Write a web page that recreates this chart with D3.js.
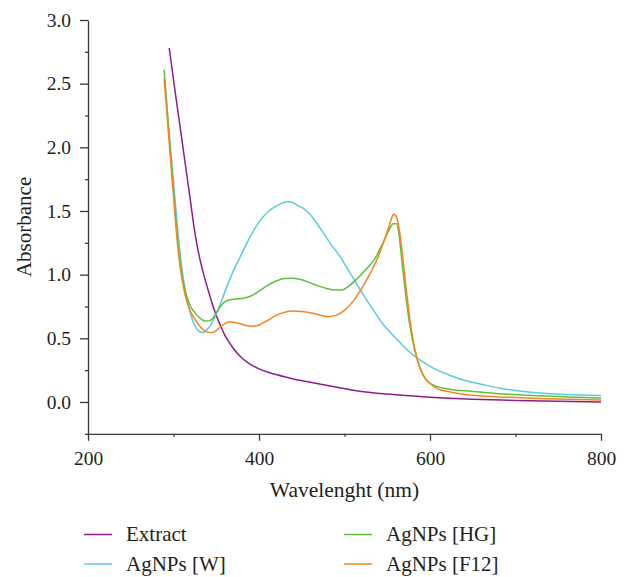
<!DOCTYPE html>
<html>
<head>
<meta charset="utf-8">
<script src="https://cdn.jsdelivr.net/npm/d3@7"></script>
<style>
  body { margin: 0; background: #fff; }
  .axis path, .axis line { stroke: #3a3a3a; stroke-width: 1.3; }
  .curve { fill: none; stroke-width: 1.5; }
</style>
</head>
<body>
<svg id="chart"></svg>
<script>
// [wavelength nm, absorbance]
const extract = [[295, 2.78], [300, 2.53], [305, 2.29], [310, 2.05], [315, 1.81], [320, 1.57], [325, 1.33],
  [330, 1.15], [335, 1.01], [340, 0.89], [345, 0.78], [350, 0.68], [355, 0.60], [360, 0.525], [365, 0.47],
  [370, 0.42], [380, 0.345], [390, 0.295], [400, 0.26], [410, 0.235], [420, 0.215], [440, 0.18], [460, 0.155],
  [480, 0.13], [500, 0.105], [520, 0.083], [550, 0.062], [600, 0.038], [650, 0.022], [700, 0.012], [750, 0.005], [800, 0.0]]

const agW = [[293, 2.25], [296, 2.03], [300, 1.73], [304, 1.42], [308, 1.15], [312, 0.95], [316, 0.80], [320, 0.69],
  [325, 0.60], [330, 0.555], [334, 0.545], [338, 0.56], [343, 0.60], [350, 0.69], [356, 0.79], [362, 0.90],
  [370, 1.03], [378, 1.14], [386, 1.25], [394, 1.35], [402, 1.43], [410, 1.49], [418, 1.53], [426, 1.56],
  [434, 1.573], [440, 1.565], [446, 1.54], [452, 1.52], [460, 1.47], [468, 1.40], [475, 1.33], [485, 1.23],
  [495, 1.14], [505, 1.03], [514, 0.93], [524, 0.82], [534, 0.72], [544, 0.62], [553, 0.55], [563, 0.48],
  [573, 0.41], [588, 0.33], [600, 0.28], [623, 0.21], [640, 0.17], [660, 0.14], [682, 0.107], [700, 0.09],
  [728, 0.07], [760, 0.058], [800, 0.05]]

const agHG = [[289, 2.61], [292, 2.36], [296, 2.00], [300, 1.66], [304, 1.33], [308, 1.08], [312, 0.92], [316, 0.82],
  [320, 0.75], [325, 0.70], [330, 0.665], [335, 0.64], [339, 0.635], [344, 0.645], [350, 0.70], [356, 0.76],
  [362, 0.795], [368, 0.805], [375, 0.81], [382, 0.815], [390, 0.83], [400, 0.87], [410, 0.915], [420, 0.95],
  [430, 0.97], [440, 0.972], [450, 0.96], [460, 0.935], [470, 0.91], [480, 0.89], [490, 0.88], [497, 0.88],
  [505, 0.91], [515, 0.97], [525, 1.04], [535, 1.12], [545, 1.25], [552, 1.35], [557, 1.40], [561, 1.40],
  [564, 1.30], [568, 1.05], [572, 0.82], [576, 0.62], [580, 0.47], [584, 0.36], [590, 0.24], [596, 0.17],
  [605, 0.13], [623, 0.10], [650, 0.083], [680, 0.065], [720, 0.05], [760, 0.04], [800, 0.032]]

const agF12 = [[289, 2.54], [292, 2.29], [296, 1.95], [300, 1.62], [304, 1.29], [308, 1.05], [312, 0.89], [316, 0.78],
  [320, 0.71], [325, 0.65], [330, 0.60], [335, 0.565], [340, 0.548], [345, 0.545], [350, 0.56], [355, 0.59],
  [360, 0.615], [366, 0.63], [372, 0.625], [378, 0.615], [385, 0.60], [392, 0.595], [400, 0.605], [410, 0.64],
  [420, 0.68], [430, 0.705], [440, 0.715], [450, 0.71], [460, 0.70], [470, 0.685], [480, 0.67], [490, 0.68],
  [500, 0.72], [510, 0.79], [520, 0.89], [530, 1.01], [540, 1.15], [548, 1.30], [553, 1.40], [556, 1.46],
  [558, 1.475], [561, 1.45], [565, 1.31], [569, 1.08], [573, 0.84], [577, 0.62], [581, 0.46], [586, 0.31],
  [592, 0.21], [600, 0.145], [610, 0.10], [625, 0.077], [650, 0.052], [680, 0.040], [720, 0.030],
  [760, 0.022], [800, 0.016]]

const seriesNames = ['Extract', 'AgNPs [W]', 'AgNPs [HG]', 'AgNPs [F12]']
const seriesColors = ['#8b1d8c', '#5ccbde', '#5fbf3d', '#f7841f']
const seriesData = [extract, agW, agHG, agF12]

const xMajor = [200, 400, 600, 800]
const xMinor = [300, 500, 700]
const yMajor = [0, 0.5, 1.0, 1.5, 2.0, 2.5, 3.0]
const yMinor = [-0.25, 0.25, 0.75, 1.25, 1.75, 2.25, 2.75]

const width = 624, height = 577
const margin = { top: 20, right: 23, bottom: 143, left: 88 }
const serif = '"Liberation Serif", "Times New Roman", Times, "DejaVu Serif", serif'

const svg = d3.select('#chart')
    .attr('width', width)
    .attr('height', height)
    .attr('font-family', serif)

const x = d3.scaleLinear()
    .domain([200, 800])
    .range([margin.left, width - margin.right])

const y = d3.scaleLinear()
    .domain([-0.25, 3.0])
    .range([height - margin.bottom - 0.2, margin.top])

const fontSize = 19.5

// y axis: minor ticks first, then labelled major ticks
svg.append('g')
    .attr('class', 'axis')
    .attr('transform', `translate(${margin.left},0)`)
    .call(d3.axisLeft(y).tickValues(yMinor).tickSize(3).tickSizeOuter(0).tickFormat(''))

svg.append('g')
    .attr('class', 'axis')
    .attr('transform', `translate(${margin.left},0)`)
    .call(d3.axisLeft(y).tickValues(yMajor).tickSize(8).tickSizeOuter(0).tickPadding(9).tickFormat(d3.format('.1f')))
    .call(g => g.select('.domain').remove())
    .attr('font-family', serif)
    .attr('font-size', fontSize)
    .selectAll('text')
    .attr('fill', '#231f20')

const xAxisY = y(-0.25)

svg.append('g')
    .attr('class', 'axis')
    .attr('transform', `translate(0,${xAxisY})`)
    .call(d3.axisBottom(x).tickValues(xMinor).tickSize(3).tickSizeOuter(0).tickFormat(''))

svg.append('g')
    .attr('class', 'axis')
    .attr('transform', `translate(0,${xAxisY})`)
    .call(d3.axisBottom(x).tickValues(xMajor).tickSize(7).tickSizeOuter(0).tickPadding(10).tickFormat(d3.format('d')))
    .call(g => g.select('.domain').remove())
    .attr('font-family', serif)
    .attr('font-size', fontSize)
    .selectAll('text')
    .attr('fill', '#231f20')

svg.append('text')
    .attr('x', (margin.left + width - margin.right) / 2)
    .attr('y', 497)
    .attr('text-anchor', 'middle')
    .attr('font-size', 21.5)
    .attr('fill', '#231f20')
    .text('Wavelenght (nm)')

svg.append('text')
    .attr('transform', `translate(31,${(margin.top + xAxisY) / 2}) rotate(-90)`)
    .attr('text-anchor', 'middle')
    .attr('font-size', 21)
    .attr('fill', '#231f20')
    .text('Absorbance')

const line = d3.line()
    .x(d => x(d[0]))
    .y(d => y(d[1]))
    .curve(d3.curveMonotoneX)

svg.append('g')
    .selectAll('path')
    .data(seriesData)
    .join('path')
    .attr('class', 'curve')
    .attr('stroke', (_, i) => seriesColors[i])
    .attr('d', line)

// legend, two columns
const legend = svg.append('g')
    .selectAll('g')
    .data(seriesNames)
    .join('g')
    .attr('transform', (_, i) => `translate(${i < 2 ? 84 : 344},${i % 2 ? 564 : 534.5})`)

legend.append('line')
    .attr('x2', 28)
    .attr('stroke', (_, i) => seriesColors[i])
    .attr('stroke-width', 1.5)

legend.append('text')
    .attr('x', 42)
    .attr('dy', '0.33em')
    .attr('font-size', 21)
    .attr('fill', '#231f20')
    .text(d => d)
</script>
</body>
</html>
